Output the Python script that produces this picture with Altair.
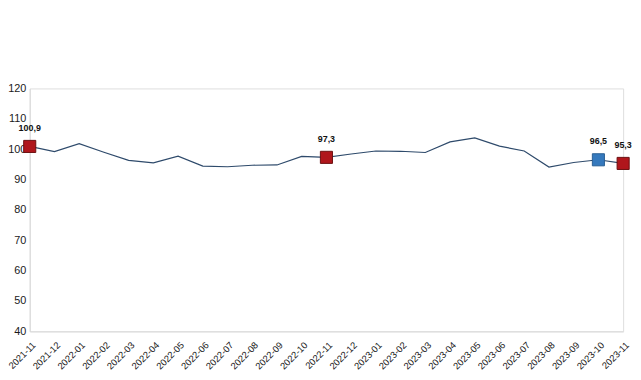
import altair as alt
import pandas as pd

months = ["2021-11", "2021-12", "2022-01", "2022-02", "2022-03", "2022-04", "2022-05",
          "2022-06", "2022-07", "2022-08", "2022-09", "2022-10", "2022-11", "2022-12",
          "2023-01", "2023-02", "2023-03", "2023-04", "2023-05", "2023-06", "2023-07",
          "2023-08", "2023-09", "2023-10", "2023-11"]
values = [100.9, 99.2, 101.8, 99.0, 96.3, 95.5, 97.7, 94.4, 94.2, 94.7, 94.8, 97.6,
          97.3, 98.4, 99.4, 99.3, 98.9, 102.4, 103.7, 101.0, 99.4, 94.1, 95.6, 96.5, 95.3]

marker_months = ["2021-11", "2022-11", "2023-10", "2023-11"]
marker_values = [100.9, 97.3, 96.5, 95.3]
marker_labels = ["100,9", "97,3", "96,5", "95,3"]
marker_kind = ["yıllık", "yıllık", "aylık", "yıllık"]

df = pd.DataFrame({"month": months, "value": values})
mk = pd.DataFrame({"month": marker_months, "value": marker_values,
                   "label": marker_labels, "kind": marker_kind})

FONT = "Liberation Sans"

x = alt.X("month:O", sort=months, title=None,
          scale=alt.Scale(type="point", padding=0),
          axis=alt.Axis(labelAngle=-45, labelAlign="right", labelBaseline="middle",
                        labelFontSize=9.5, labelColor="#1a1a1a", labelFont=FONT,
                        ticks=False, domainColor="#d9d9d9", labelPadding=12,
                        labelOffset=4))
y = alt.Y("value:Q", title=None,
          scale=alt.Scale(domain=[40, 120], nice=False, zero=False),
          axis=alt.Axis(values=list(range(40, 121, 10)), grid=False, ticks=False,
                        labelFontSize=11, labelColor="#1a1a1a", labelFont=FONT,
                        domainColor="#d9d9d9", labelPadding=4))

line = alt.Chart(df).mark_line(color="#2e4a6b", strokeWidth=1.2).encode(x=x, y=y)

points = alt.Chart(mk).mark_square(size=150, opacity=1, strokeWidth=1).encode(
    x=x, y=y,
    color=alt.Color("kind:N", legend=None,
                    scale=alt.Scale(domain=["yıllık", "aylık"], range=["#b0161c", "#3579bd"])),
    stroke=alt.Stroke("kind:N", legend=None,
                      scale=alt.Scale(domain=["yıllık", "aylık"], range=["#6b0f10", "#2a5f94"])),
)

labels = alt.Chart(mk).mark_text(dy=-19, fontSize=9, fontWeight="bold", color="#111", font=FONT).encode(
    x=x, y=y, text="label:N")

chart = (line + points + labels).properties(
    width=601, height=246,
    padding={"left": 22, "top": 79, "right": 10, "bottom": 60},
    autosize=alt.AutoSizeParams(type="none"),
).configure_view(stroke=None).configure(background="white")

chart.save("out.html", embed_options={"renderer": "svg", "actions": False})
